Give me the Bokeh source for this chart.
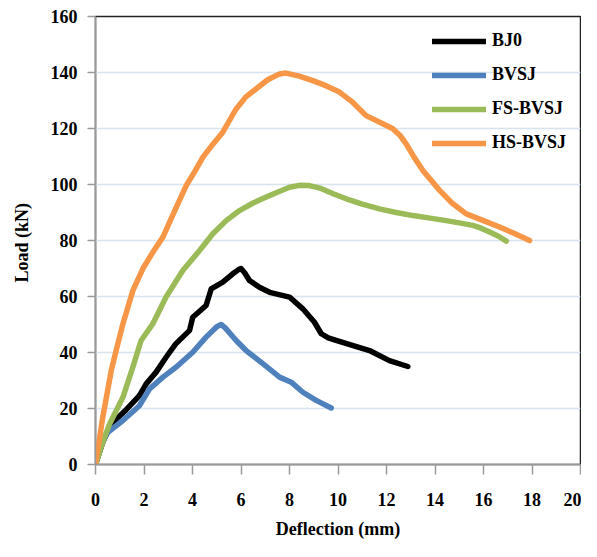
from bokeh.plotting import figure
from bokeh.models import Legend, LegendItem, FixedTicker
from bokeh.embed import file_html
from bokeh.resources import INLINE

# BJ0
bj0_x = [0, 0.3, 0.65, 1.2, 1.81, 2.09, 2.5, 2.91, 3.3, 3.88, 4.01, 4.56, 4.77, 5.25, 5.66, 5.9, 6.0, 6.15, 6.35, 6.76, 7.18, 8.0, 8.55, 9.03, 9.31, 9.6, 9.92, 11.3, 12.12, 12.88]
bj0_y = [0, 8, 14.5, 19, 24.6, 28.8, 33, 38.3, 43, 47.9, 52.6, 56.8, 62.7, 65.1, 68.1, 69.6, 70.0, 68.5, 65.7, 63.3, 61.5, 59.8, 55.6, 50.8, 46.7, 45.2, 44.3, 40.7, 37.1, 35.0]
# BVSJ
bvsj_x = [0, 0.2, 0.51, 1.13, 1.81, 2.02, 2.23, 2.78, 3.33, 4.01, 4.56, 5.0, 5.18, 5.35, 5.8, 6.21, 6.9, 7.59, 8.07, 8.55, 9.1, 9.72]
bvsj_y = [0, 7, 11.5, 15.7, 21.0, 24.0, 27.0, 31.2, 34.8, 40.1, 45.5, 49.2, 50.0, 48.8, 44.3, 40.7, 36.0, 31.2, 29.4, 25.8, 22.9, 20.2]
# FS-BVSJ
fs_x = [0, 0.3, 0.58, 1.13, 1.54, 1.88, 2.36, 2.91, 3.6, 4.29, 4.84, 5.4, 5.94, 6.5, 7.04, 7.6, 8.0, 8.4, 8.82, 9.3, 9.8, 10.34, 11.0, 11.71, 12.4, 13.09, 13.8, 14.46, 15.0, 15.56, 15.9, 16.25, 16.6, 16.94]
fs_y = [0, 8, 14.5, 24.0, 34.8, 44.3, 50.2, 59.8, 69.3, 76.4, 82.4, 87.2, 90.7, 93.4, 95.5, 97.6, 99.0, 99.7, 99.6, 98.6, 96.7, 94.9, 93.0, 91.3, 90.0, 88.9, 88.0, 87.1, 86.3, 85.4, 84.4, 83.0, 81.6, 79.8]
# HS-BVSJ
hs_x = [0, 0.3, 0.65, 0.85, 1.13, 1.54, 1.95, 2.35, 2.78, 3.25, 3.74, 4.05, 4.43, 4.85, 5.25, 5.5, 5.8, 6.2, 6.63, 7.1, 7.59, 7.86, 8.4, 8.96, 9.5, 10.06, 10.6, 11.16, 11.7, 12.26, 12.55, 12.81, 13.15, 13.5, 14.19, 14.7, 15.29, 16.0, 16.66, 17.3, 17.9]
hs_y = [0, 16.9, 33.6, 40.7, 50.2, 62.1, 69.9, 75.6, 81.2, 90.3, 99.6, 104.0, 109.8, 114.5, 118.7, 122.5, 127.0, 131.3, 134.2, 137.4, 139.5, 139.8, 138.7, 137.1, 135.3, 133.0, 129.4, 124.6, 122.3, 119.9, 117.6, 114.5, 109.6, 105.0, 97.9, 93.4, 89.5, 87.1, 84.8, 82.4, 80.0]

series_names = ["BJ0", "BVSJ", "FS-BVSJ", "HS-BVSJ"]
series_colors = ["#000000", "#4f81bd", "#9bbb59", "#f79646"]
x_ticks = list(range(0, 21, 2))
y_ticks = list(range(0, 161, 20))

FONT = "Liberation Serif"

p = figure(width=581, height=541, x_range=(0, 20), y_range=(0, 160),
           output_backend="svg", toolbar_location=None,
           min_border_left=95, min_border_right=1, min_border_top=16, min_border_bottom=77)
p.background_fill_color = "white"
p.border_fill_color = "white"
p.outline_line_color = "#222222"
p.outline_line_width = 1.5

p.xgrid.grid_line_color = None
p.ygrid.grid_line_color = "#d8e3f0"
p.ygrid.grid_line_width = 1.5

p.xaxis.ticker = FixedTicker(ticks=x_ticks)
p.yaxis.ticker = FixedTicker(ticks=y_ticks)
for ax in (p.xaxis[0], p.yaxis[0]):
    ax.axis_line_color = "#9a9a9a"
    ax.axis_line_width = 1.5
    ax.major_tick_line_color = "#9a9a9a"
    ax.major_tick_line_width = 1.5
    ax.major_tick_in = 0
    ax.minor_tick_line_color = None
    ax.major_label_text_font = FONT
    ax.major_label_text_font_style = "bold"
    ax.major_label_text_font_size = "18px"
    ax.major_label_text_color = "#000000"
    ax.axis_label_text_font = FONT
    ax.axis_label_text_font_style = "bold"
    ax.axis_label_text_font_size = "18px"
    ax.axis_label_text_color = "#000000"
p.xaxis.major_tick_out = 10
p.yaxis.major_tick_out = 8
p.xaxis.major_label_standoff = 18
p.yaxis.major_label_standoff = 10
p.xaxis.axis_label = "Deflection (mm)"
p.yaxis.axis_label = "Load  (kN)"
p.xaxis.axis_label_standoff = 10
p.yaxis.axis_label_standoff = 16

xs = [bj0_x, bvsj_x, fs_x, hs_x]
ys = [bj0_y, bvsj_y, fs_y, hs_y]
renderers = []
for name, color, x, y in zip(series_names, series_colors, xs, ys):
    r = p.line(x, y, line_color=color, line_width=5.5, line_join="round", line_cap="round")
    renderers.append(r)
items = [LegendItem(label=name, renderers=[r]) for name, r in zip(series_names, renderers)]

legend = Legend(items=items, location="top_right")
legend.background_fill_alpha = 0
legend.border_line_color = None
legend.label_text_font = FONT
legend.label_text_font_style = "bold"
legend.label_text_font_size = "18px"
legend.label_text_color = "#000000"
legend.glyph_width = 54
legend.glyph_height = 20
legend.label_height = 20
legend.label_standoff = 6
legend.spacing = 13
legend.padding = 26
legend.margin = 14
p.add_layout(legend)

open("out.html", "w").write(file_html(p, INLINE))
